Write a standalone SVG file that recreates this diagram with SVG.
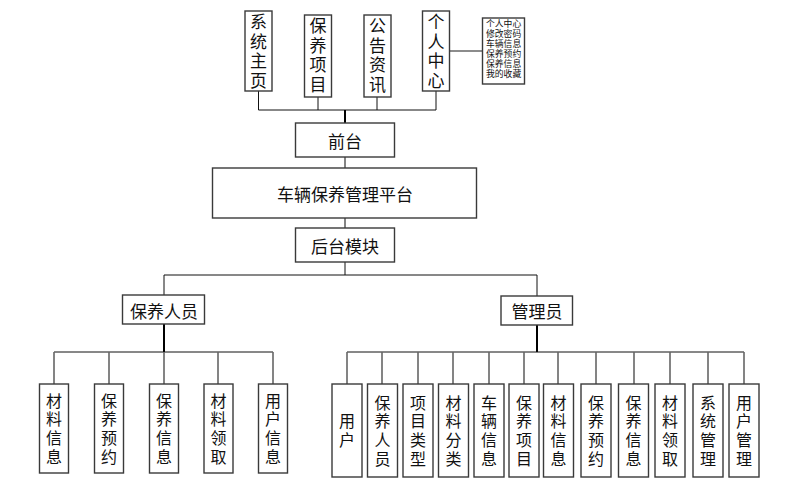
<svg xmlns="http://www.w3.org/2000/svg" width="801" height="495" viewBox="0 0 801 495">
<style>
.b{fill:#fff;stroke:#3a3a3a;stroke-width:1.4}
.t{font-family:"Noto Sans CJK SC","Liberation Sans",sans-serif;fill:#111;text-anchor:middle;dominant-baseline:central}
.t17{font-size:17px}
.v17{font-size:17px;writing-mode:vertical-rl;letter-spacing:2.5px}
.v16{font-size:16px;writing-mode:vertical-rl;letter-spacing:2.7px}
.t9{font-family:"Liberation Sans","Noto Sans CJK SC",sans-serif;font-size:8.8px;text-anchor:start}
.c{fill:none;stroke:#111;stroke-width:1}
.g{fill:none;stroke:#666;stroke-width:1.6}
.k{fill:none;stroke:#000;stroke-width:2}
</style>
<rect width="801" height="495" fill="#fff"/>
<g id="connectors">
<path class="c" d="M258.5 91V110H436V91M318 97V110M377 97V110"/>
<path class="k" d="M345 110V123"/>
<path class="g" d="M449 51H482"/>
<path class="g" d="M345 157V168M345 218V228"/>
<path class="c" d="M345 262V275M164 275H537M164 275V295M537 275V296"/>
<path class="k" d="M164 324V352M537 325V352"/>
<path class="c" d="M54 352H273"/>
<path class="g" d="M54 352V384M109 352V384M164 352V384M218 352V384M273 352V384"/>
<path class="c" d="M347 352H744"/>
<path class="g" d="M347 352V384M382 352V384M418 352V384M453 352V384M489 352V384M524 352V384M558 352V384M596 352V384M634 352V384M670 352V384M708 352V384M744 352V384"/>
</g>
<g id="n_home"><rect class="b" x="245" y="11" width="27" height="80"/><text class="t v17" x="258.5" y="52.25">系统主页</text></g>
<g id="n_item"><rect class="b" x="304.5" y="15" width="27" height="82"/><text class="t v17" x="318" y="56.5">保养项目</text></g>
<g id="n_news"><rect class="b" x="364" y="15" width="27" height="82"/><text class="t v17" x="377.5" y="56.5">公告资讯</text></g>
<g id="n_center"><rect class="b" x="422.5" y="11" width="27" height="80"/><text class="t v17" x="436" y="52.25">个人中心</text></g>
<g id="n_center_detail"><rect class="b" x="482.5" y="18" width="42" height="66"/><text class="t t9"><tspan x="486" y="24.3">个人中心</tspan><tspan x="486" y="34.2">修改密码</tspan><tspan x="486" y="44.1">车辆信息</tspan><tspan x="486" y="54">保养预约</tspan><tspan x="486" y="63.9">保养信息</tspan><tspan x="486" y="73.8">我的收藏</tspan></text></g>
<g id="n_front"><rect class="b" x="295.5" y="123" width="99" height="34"/><text class="t t17" x="345" y="140.5">前台</text></g>
<g id="n_platform"><rect class="b" x="212.5" y="168" width="264" height="50"/><text class="t t17" x="345" y="193">车辆保养管理平台</text></g>
<g id="n_back"><rect class="b" x="295.5" y="228" width="99" height="34"/><text class="t t17" x="345" y="245">后台模块</text></g>
<g id="n_staff"><rect class="b" x="122.5" y="295" width="82" height="29"/><text class="t t17" x="164" y="310">保养人员</text></g>
<g id="n_admin"><rect class="b" x="501" y="296" width="71.5" height="29"/><text class="t t17" x="537" y="310.5">管理员</text></g>
<g id="s1"><rect class="b" x="39.5" y="384" width="29" height="89"/><text class="t v16" x="54" y="429.9">材料信息</text></g>
<g id="s2"><rect class="b" x="94.5" y="384" width="29" height="89"/><text class="t v16" x="109" y="429.9">保养预约</text></g>
<g id="s3"><rect class="b" x="149.5" y="384" width="29" height="89"/><text class="t v16" x="164" y="429.9">保养信息</text></g>
<g id="s4"><rect class="b" x="204" y="384" width="29" height="89"/><text class="t v16" x="218.5" y="429.9">材料领取</text></g>
<g id="s5"><rect class="b" x="258.5" y="384" width="29" height="89"/><text class="t v16" x="273" y="429.9">用户信息</text></g>
<g id="a1"><rect class="b" x="332" y="384" width="30" height="93"/><text class="t v16" x="347" y="431.85">用户</text></g>
<g id="a2"><rect class="b" x="367.5" y="384" width="30" height="93"/><text class="t v16" x="382.5" y="431.85">保养人员</text></g>
<g id="a3"><rect class="b" x="403" y="384" width="30" height="93"/><text class="t v16" x="418" y="431.85">项目类型</text></g>
<g id="a4"><rect class="b" x="438.5" y="384" width="30" height="93"/><text class="t v16" x="453.5" y="431.85">材料分类</text></g>
<g id="a5"><rect class="b" x="474" y="384" width="30" height="93"/><text class="t v16" x="489" y="431.85">车辆信息</text></g>
<g id="a6"><rect class="b" x="509" y="384" width="30" height="93"/><text class="t v16" x="524" y="431.85">保养项目</text></g>
<g id="a7"><rect class="b" x="543.5" y="384" width="30" height="93"/><text class="t v16" x="558.5" y="431.85">材料信息</text></g>
<g id="a8"><rect class="b" x="581" y="384" width="30" height="93"/><text class="t v16" x="596" y="431.85">保养预约</text></g>
<g id="a9"><rect class="b" x="618.5" y="384" width="30" height="93"/><text class="t v16" x="633.5" y="431.85">保养信息</text></g>
<g id="a10"><rect class="b" x="655" y="384" width="30" height="93"/><text class="t v16" x="670" y="431.85">材料领取</text></g>
<g id="a11"><rect class="b" x="693" y="384" width="30" height="93"/><text class="t v16" x="708" y="431.85">系统管理</text></g>
<g id="a12"><rect class="b" x="729" y="384" width="30" height="93"/><text class="t v16" x="744" y="431.85">用户管理</text></g>
</svg>
